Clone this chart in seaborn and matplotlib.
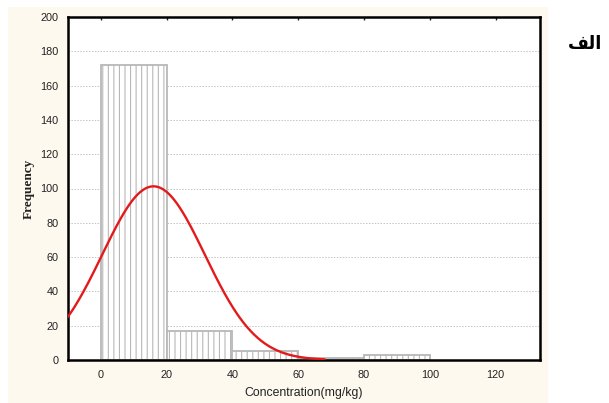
import numpy as np
import pandas as pd
import seaborn as sns
import matplotlib
matplotlib.use("Agg")
import matplotlib.pyplot as plt
from matplotlib.patches import Rectangle

# ---- data ----
bin_edges = [0, 20, 40, 60, 80, 100]
bin_counts = [172, 17, 5, 1, 3]
fit_mean = 16.0          # fitted normal curve parameters
fit_sd = 15.6
x_ticks = [0, 20, 40, 60, 80, 100, 120]
y_ticks = [0, 20, 40, 60, 80, 100, 120, 140, 160, 180, 200]
x_label = "Concentration(mg/kg)"
y_label = "Frequency"
# "الف" written in visual (shaped, right-to-left) order for matplotlib
panel_label = "\uFED2\uFEDF\uFE8D"

sns.set_theme(style="white")
plt.rcParams["font.family"] = ["Liberation Sans", "DejaVu Sans"]
plt.rcParams["hatch.linewidth"] = 0.8

fig = plt.figure(figsize=(6.09, 4.03), dpi=100, facecolor="white")
bg = Rectangle((8 / 609, 0), (548 - 8) / 609, 1 - 7 / 403,
               transform=fig.transFigure, facecolor="#fdf9ef",
               edgecolor="none", zorder=-10)
fig.patches.append(bg)
ax = fig.add_axes([68 / 609, 1 - 360 / 403, (540 - 68) / 609, (360 - 17) / 403])
ax.set_zorder(5)
ax.set_facecolor("white")

centers = [(a + b) / 2 for a, b in zip(bin_edges[:-1], bin_edges[1:])]
df = pd.DataFrame({"x": centers, "count": bin_counts})
sns.histplot(data=df, x="x", weights="count", bins=bin_edges, ax=ax,
             color="white", edgecolor="#b8b8b8", linewidth=1.3,
             hatch="|||", alpha=1, zorder=2)

# fitted normal curve (expected frequency per bin)
n_total = sum(bin_counts)
bw = bin_edges[1] - bin_edges[0]
xs = np.linspace(-10, 68, 300)
ys = n_total * bw / (fit_sd * np.sqrt(2 * np.pi)) * np.exp(-0.5 * ((xs - fit_mean) / fit_sd) ** 2)
sns.lineplot(x=xs, y=ys, ax=ax, color="#e31a1c", linewidth=1.7, zorder=3)

ax.set_xlim(-10, 133.5)
ax.set_ylim(0, 200)
ax.set_xticks(x_ticks)
ax.set_yticks(y_ticks)
ax.tick_params(axis="both", labelsize=7.8, length=2, width=1, direction="in",
               pad=7, colors="#222222")
ax.tick_params(axis="x", top=True, bottom=False, labelbottom=True)
ax.yaxis.grid(True, linestyle=(0, (1.5, 1.5)), color="#c4c4c4", linewidth=0.7)
ax.xaxis.grid(False)
ax.set_axisbelow(True)
for s in ax.spines.values():
    s.set_color("black")
    s.set_linewidth(1.8)
    s.set_visible(True)

ax.set_xlabel(x_label, fontsize=8.8, color="#222222", labelpad=5)
ax.set_ylabel(y_label, fontsize=9.5, fontfamily="Liberation Serif",
              fontweight="bold", color="#222222", labelpad=4)

fig.text(585 / 609, 1 - 44 / 403, panel_label, fontsize=13, fontweight="bold",
         ha="center", va="center", family=["DejaVu Sans"], color="black")

fig.savefig("out.png", dpi=100, facecolor=fig.get_facecolor())
